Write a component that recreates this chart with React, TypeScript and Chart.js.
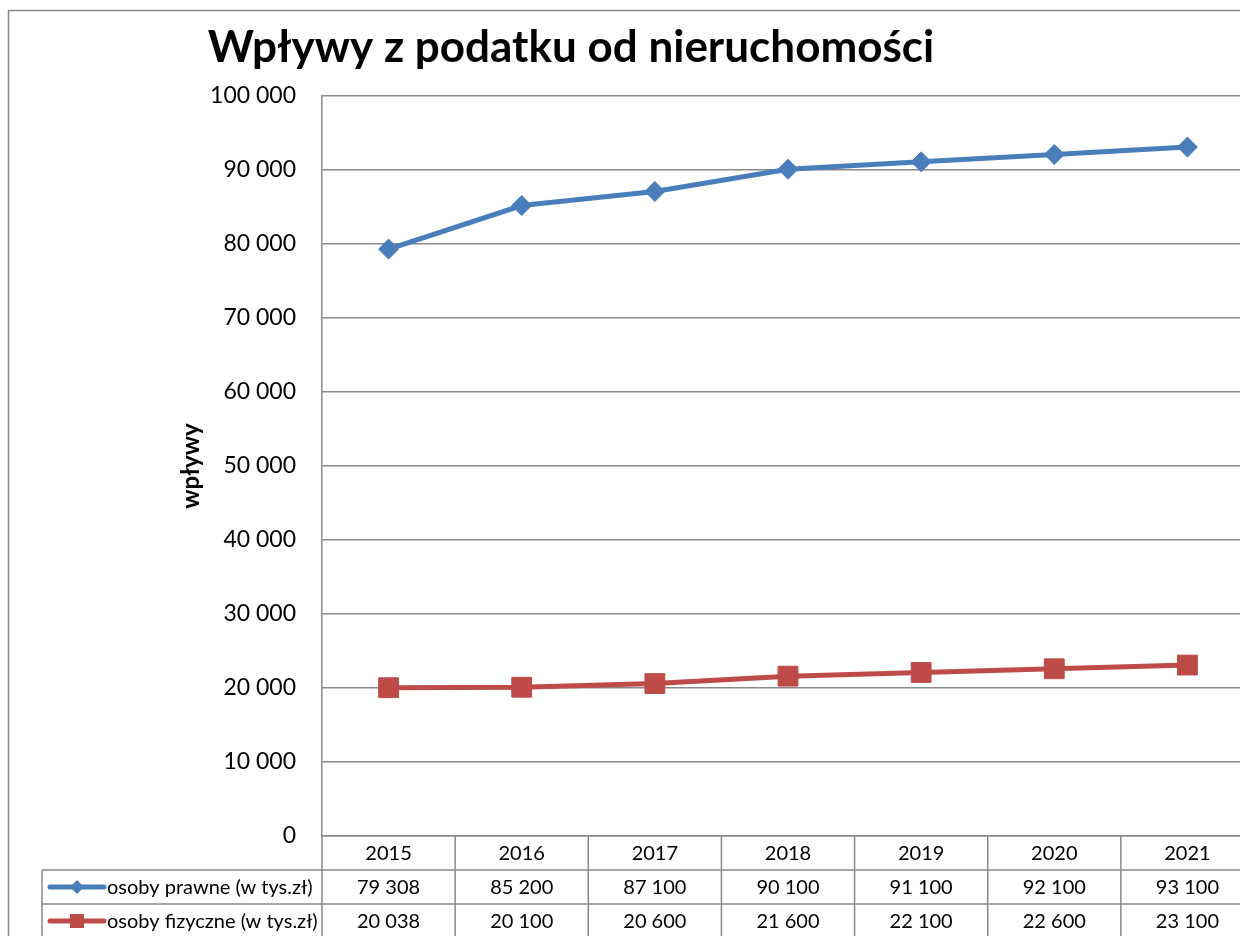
import React, { useEffect, useRef } from "react";
import { Chart, registerables } from "chart.js";

Chart.register(...registerables);

const years = ["2015", "2016", "2017", "2018", "2019", "2020", "2021"];
const prawne = [79308, 85200, 87100, 90100, 91100, 92100, 93100];
const fizyczne = [20038, 20100, 20600, 21600, 22100, 22600, 23100];
const seriesNames = ["osoby prawne (w tys.zł)", "osoby fizyczne (w tys.zł)"];
const titleText = "Wpływy z podatku od nieruchomości";
const yTitle = "wpływy";
const yMin = 0;
const yMax = 100000;
const yStep = 10000;

const BLUE = "#4a7ebb";
const RED = "#be4b48";
const GRID = "#8a8a8a";
const FONT = "Lato, Carlito, Calibri, sans-serif";

const fmt = (v: number) => String(v).replace(/\B(?=(\d{3})+(?!\d))/g, " ");

const W = 1280;
const H = 960;

function drawMarker(ctx: CanvasRenderingContext2D, style: string, x: number, y: number, color: string) {
  ctx.save();
  ctx.fillStyle = color;
  ctx.beginPath();
  if (style === "diamond") {
    const r = 7;
    ctx.moveTo(x, y - r);
    ctx.lineTo(x + r, y);
    ctx.lineTo(x, y + r);
    ctx.lineTo(x - r, y);
    ctx.closePath();
  } else {
    const s = 7;
    ctx.rect(x - s, y - s, 2 * s, 2 * s);
  }
  ctx.fill();
  ctx.restore();
}

const decorPlugin = {
  id: "decor",
  beforeDraw(chart: any) {
    const ctx = chart.ctx as CanvasRenderingContext2D;
    ctx.save();
    ctx.fillStyle = "#ffffff";
    ctx.fillRect(0, 0, chart.width, chart.height);
    ctx.strokeStyle = GRID;
    ctx.lineWidth = 1.5;
    ctx.strokeRect(8.5, 10.5, 1254, 1000);
    ctx.restore();
  },
  afterDraw(chart: any) {
    const ctx = chart.ctx as CanvasRenderingContext2D;
    const xs = chart.scales.x;
    const area = chart.chartArea;
    const n = years.length;
    const colW = (area.right - area.left) / n;
    const top = area.bottom;
    const rowH = 34;
    const legendLeft = 42;

    ctx.save();
    // title
    ctx.fillStyle = "#000";
    ctx.font = `bold 44px ${FONT}`;
    ctx.textAlign = "center";
    ctx.textBaseline = "alphabetic";
    ctx.fillText(titleText, 571, 62);

    // table lines
    ctx.strokeStyle = GRID;
    ctx.lineWidth = 1.5;
    ctx.beginPath();
    for (let r = 1; r <= 3; r++) {
      const y = top + r * rowH;
      ctx.moveTo(legendLeft, y);
      ctx.lineTo(area.right, y);
    }
    for (let i = 0; i <= n; i++) {
      const x = xs.getPixelForValue(i) - colW / 2;
      ctx.moveTo(x, top);
      ctx.lineTo(x, top + 3 * rowH + 2);
    }
    ctx.moveTo(legendLeft, top + rowH);
    ctx.lineTo(legendLeft, top + 3 * rowH + 2);
    ctx.stroke();

    // text
    ctx.fillStyle = "#000";
    ctx.font = `20px ${FONT}`;
    ctx.textAlign = "center";
    ctx.textBaseline = "middle";
    const rows = [prawne, fizyczne];
    for (let i = 0; i < n; i++) {
      const cx = xs.getPixelForValue(i);
      ctx.fillText(years[i], cx, top + rowH / 2 + 1);
      rows.forEach((vals, r) => {
        ctx.fillText(fmt(vals[i]), cx, top + (r + 1) * rowH + rowH / 2 + 1);
      });
    }

    // legend keys
    const colors = [BLUE, RED];
    const styles = ["diamond", "square"];
    rows.forEach((_, r) => {
      const y = top + (r + 1) * rowH + rowH / 2;
      ctx.strokeStyle = colors[r];
      ctx.lineWidth = 5;
      ctx.lineCap = "round";
      ctx.beginPath();
      ctx.moveTo(50, y);
      ctx.lineTo(104, y);
      ctx.stroke();
      drawMarker(ctx, styles[r], 77, y, colors[r]);
      ctx.fillStyle = "#000";
      ctx.textAlign = "left";
      ctx.fillText(seriesNames[r], 107, y + 1);
    });
    ctx.restore();
  },
};

export default function App() {
  const ref = useRef<HTMLCanvasElement | null>(null);
  useEffect(() => {
    if (!ref.current) return;
    const chart = new Chart(ref.current, {
      type: "line",
      data: {
        labels: years,
        datasets: [
          {
            label: seriesNames[0],
            data: prawne,
            borderColor: BLUE,
            backgroundColor: BLUE,
            borderWidth: 5,
            pointStyle: "rectRot",
            pointRadius: 10,
            pointBorderWidth: 1,
            tension: 0,
          },
          {
            label: seriesNames[1],
            data: fizyczne,
            borderColor: RED,
            backgroundColor: RED,
            borderWidth: 5,
            pointStyle: "rect",
            pointRadius: 14,
            pointBorderWidth: 1,
            tension: 0,
          },
        ],
      },
      options: {
        responsive: false,
        animation: false,
        devicePixelRatio: 1,
        layout: { padding: { left: 175, top: 96, right: W - 1254, bottom: H - 836 } },
        plugins: {
          legend: { display: false },
          title: { display: false },
          tooltip: { enabled: false },
        },
        scales: {
          x: {
            type: "category",
            offset: true,
            grid: { display: false, drawTicks: false },
            border: { display: true, color: GRID, width: 1.5 },
            ticks: { display: false },
            afterFit: (s: any) => {
              s.height = 0;
            },
          },
          y: {
            min: yMin,
            max: yMax,
            ticks: {
              stepSize: yStep,
              color: "#000",
              padding: 26,
              font: { family: FONT, size: 23 },
              callback: (v: any) => fmt(Number(v)),
            },
            grid: { color: GRID, lineWidth: 1.5, drawTicks: false },
            border: { display: true, color: GRID, width: 1.5 },
            title: {
              display: true,
              text: yTitle,
              color: "#000",
              padding: { top: 2, bottom: 2 },
              font: { family: FONT, size: 24, weight: "bold" },
            },
            afterFit: (s: any) => {
              s.width = 322 - 175;
            },
          },
        },
      },
      plugins: [decorPlugin],
    });
    return () => chart.destroy();
  }, []);
  return (
    <div
      style={{
        position: "fixed",
        left: 0,
        top: 0,
        width: 1240,
        height: 936,
        overflow: "hidden",
        background: "#fff",
      }}
    >
      <canvas ref={ref} width={W} height={H} style={{ display: "block", width: W, height: H }} />
    </div>
  );
}
